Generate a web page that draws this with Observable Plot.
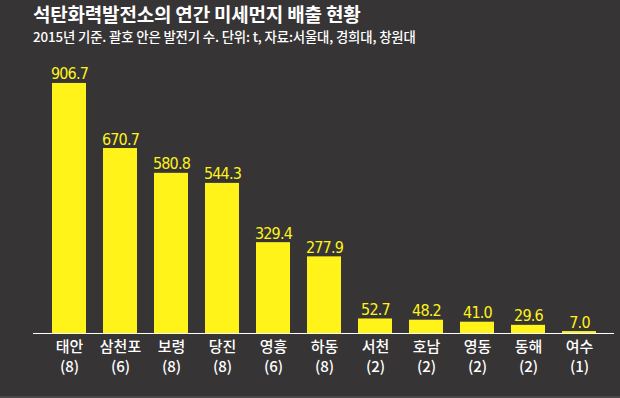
<!DOCTYPE html>
<html>
<head>
<meta charset="utf-8">
<script src="https://cdn.jsdelivr.net/npm/d3@7"></script>
<script src="https://cdn.jsdelivr.net/npm/@observablehq/plot@0.6"></script>
<style>
  html, body { margin: 0; padding: 0; background: #363435; }
  #wrap { width: 620px; height: 398px; background: #363435; position: relative; overflow: hidden; font-family: "Noto Sans CJK KR", "Noto Sans", sans-serif; }
  #title { position: absolute; left: 33px; top: 4px; line-height: 1; color: #ffffff; font-size: 19px; font-weight: 700; letter-spacing: -0.2px; white-space: nowrap; }
  #subtitle { position: absolute; left: 33px; top: 29.5px; line-height: 1; color: #ffffff; font-size: 13.4px; font-weight: 500; letter-spacing: -0.15px; white-space: nowrap; }
  #chart { position: absolute; left: 0; top: 60px; }
  #bottomline { position: absolute; left: 0; right: 0; bottom: 0; height: 2px; background: #4a4849; }
  .vals text { letter-spacing: -0.8px; }
</style>
</head>
<body>
<div id="wrap">
  <div id="title">석탄화력발전소의 연간 미세먼지 배출 현황</div>
  <div id="subtitle">2015년 기준. 괄호 안은 발전기 수. 단위: t, 자료:서울대, 경희대, 창원대</div>
  <div id="chart"></div>
  <div id="bottomline"></div>
</div>
<script>
const plants = ["태안", "삼천포", "보령", "당진", "영흥", "하동", "서천", "호남", "영동", "동해", "여수"];
const generators = [8, 6, 8, 8, 6, 8, 2, 2, 2, 2, 1];
const emissions = [906.7, 670.7, 580.8, 544.3, 329.4, 277.9, 52.7, 48.2, 41.0, 29.6, 7.0];

const data = plants.map((p, i) => ({plant: p, gens: generators[i], value: emissions[i]}));
const labelOf = new Map(data.map(d => [d.plant, `${d.plant}\n(${d.gens})`]));

const YELLOW = "#fff31a";

const chart = Plot.plot({
  width: 620,
  height: 338,
  marginLeft: 33,
  marginRight: 6,
  marginTop: 11,
  marginBottom: 65,
  style: {background: "transparent", color: "#ffffff", fontFamily: "'Noto Sans CJK KR', sans-serif"},
  x: {domain: plants, padding: 0.337, label: null},
  y: {domain: [0, 950], axis: null},
  marks: [
    Plot.barY(data, {x: "plant", y: "value", fill: YELLOW}),
    Plot.ruleY([0], {stroke: "#ffffff", strokeWidth: 1.2}),
    Plot.text(data, {
      x: "plant", y: "value",
      text: d => d.value.toFixed(1),
      lineAnchor: "bottom", dy: -4,
      fill: YELLOW, fontSize: 16,
      className: "vals",
      fontFamily: "'Liberation Sans Narrow', 'DejaVu Sans Condensed', 'Liberation Sans', sans-serif"
    }),
    Plot.axisX({
      tickSize: 0,
      tickPadding: 5,
      tickFormat: d => labelOf.get(d),
      fill: "#ffffff",
      fontSize: 15,
      fontWeight: 500,
      lineHeight: 1.3,
      label: null
    })
  ]
});
document.getElementById("chart").appendChild(chart);
</script>
</body>
</html>
